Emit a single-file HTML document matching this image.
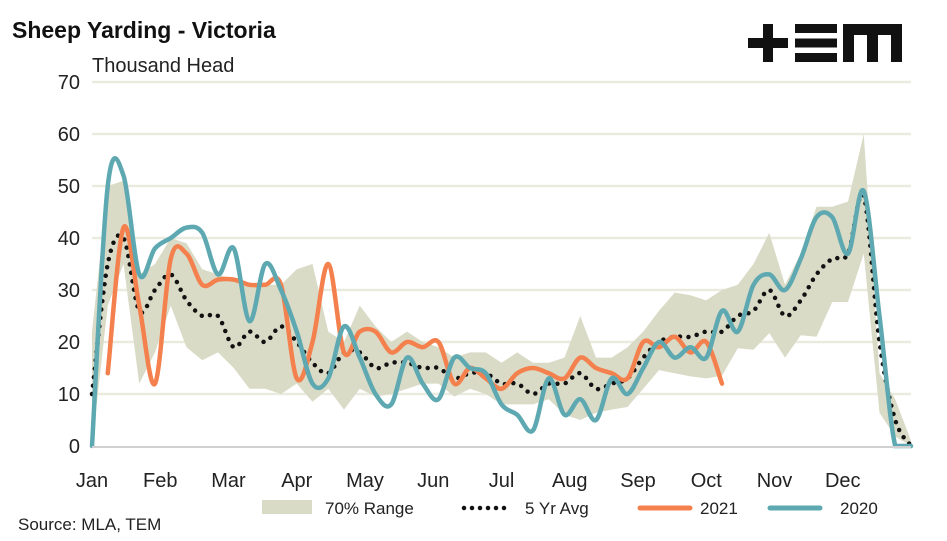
<!DOCTYPE html>
<html><head><meta charset="utf-8"><style>
body{margin:0;background:#fff;}
svg{display:block;font-family:"Liberation Sans",Arial,sans-serif;}
</style></head><body>
<svg id="chart" width="947" height="541" viewBox="0 0 947 541">
<text x="12" y="38" font-size="23" font-weight="bold" fill="#111">Sheep Yarding - Victoria</text>
<text x="92" y="72" font-size="20" fill="#222">Thousand Head</text>
<g fill="#111">
<rect x="748" y="38" width="40" height="10"/><rect x="763" y="24" width="10" height="38"/>
<rect x="795" y="24" width="42" height="9"/><rect x="795" y="38.5" width="42" height="9"/><rect x="795" y="53" width="42" height="9"/>
<path d="M843 24 H902 V62 H891 V35 H878 V62 H867 V35 H854 V62 H843 Z"/>
</g>
<g id="grid"></g><g id="range"></g><g id="lines"></g><g id="axes"></g>
<g>
<rect x="262" y="500" width="50" height="14" fill="#d9dbc6"/>
<text x="325" y="514" font-size="17" fill="#222">70% Range</text>
<line x1="464" y1="508" x2="512" y2="508" stroke="#111" stroke-width="4.5" stroke-linecap="round" stroke-dasharray="0 8"/>
<text x="525" y="514" font-size="17" fill="#222">5 Yr Avg</text>
<line x1="640" y1="508" x2="690" y2="508" stroke="#f4804e" stroke-width="5" stroke-linecap="round"/>
<text x="700" y="514" font-size="17" fill="#222">2021</text>
<line x1="770" y1="508" x2="820" y2="508" stroke="#5ea9b1" stroke-width="5" stroke-linecap="round"/>
<text x="840" y="514" font-size="17" fill="#222">2020</text>
</g>
<text x="18" y="530" font-size="17" fill="#222">Source: MLA, TEM</text>
</svg>
<script>
const yTicks=[0,10,20,30,40,50,60,70];
const months=["Jan","Feb","Mar","Apr","May","Jun","Jul","Aug","Sep","Oct","Nov","Dec"];
const rangeUpper=[22,50,51,33,35,40,39,34,33,32,31,31,31,34,35,22,20,27,23,20,22,20,19,17,18,18,16,18,16,16,17,25,17,17,19,22,26,29.5,29,28,30,31,35,41,31,37,46,46,47,60,14,9,1];
const rangeLower=[0,27,35,12,18,27,19,16.5,18,15,11,11,10,12,8.5,11,7,11,9.5,10,11,12,12,9.5,11,10,8,8,8,9,6,5,6.4,7,7.5,11,14.6,14,13.4,13,13.5,18.8,18.5,21.7,17,21.3,21,27.7,27.7,37,6.4,1.8,0];
const avg5=[10,35,40,26,30,33,28,25,25,19,22,20,23,20,16,14,18,18,15,16,16,15,15,13,14,14,12,12,10,12,12,14,11,12,13,17,20,21,21,22,22,25,26,30,25,28,33,36,37,48,20,5,0];
const y2021=[null,14,42,27,12,36,37,31,32,32,31,31,31,13,20,35,18,22,22,18,20,19,20,12,15,13,11,14,15,14,13,17,15,14,13,20,19,21,18,20,12];
const y2020=[0,50,52,33,38,40,42,41,33,38,24,35,30,22,12,13,23,17,10,8,17,12,9,17,15,14,8,6,3,13,6,9,5,13,10,15,20,17,19,17,26,22,31,33,30,36,44,44,37,49,25,0,0];
const X0=92,X1=911,Y0=446,YMAX=70,YTOP=82;
const xs=i=>X0+i*(X1-X0)/52;
const ys=v=>Y0-v/YMAX*(Y0-YTOP);
const NS="http://www.w3.org/2000/svg";
function mk(tag,attrs,parent){const e=document.createElementNS(NS,tag);for(const k in attrs)e.setAttribute(k,attrs[k]);document.getElementById(parent).appendChild(e);return e;}
yTicks.forEach((t,i)=>{
 if(t>0){const g=mk('line',{x1:X0,x2:X1,y1:ys(t),y2:ys(t),stroke:'#eaeadf','stroke-width':2.5},'grid');
 
 }
 const l=mk('text',{x:80,y:ys(t)+7,'font-size':20,'text-anchor':'end',fill:'#222'},'axes');l.textContent=t;
 
 
});
const ax=mk('line',{x1:X0,x2:X1,y1:Y0+1,y2:Y0+1,stroke:'#d0d0d0','stroke-width':2},'axes');


months.forEach((m,i)=>{
 const t=mk('text',{x:xs(i*52/12),y:487,'font-size':20,'text-anchor':'middle',fill:'#222'},'axes');t.textContent=m;
 
 
});
let d='';rangeUpper.forEach((v,i)=>{d+=(i?'L':'M')+xs(i)+' '+ys(v)+' ';});
for(let i=rangeLower.length-1;i>=0;i--)d+='L'+xs(i)+' '+ys(rangeLower[i])+' ';
const rp=mk('path',{d:d+'Z',fill:'#d9dbc6'},'range');


function smooth(arr){
 const pts=[];arr.forEach((v,i)=>{if(v!==null)pts.push([xs(i),ys(v)]);});
 let p='M'+pts[0][0]+' '+pts[0][1];
 const cl=y=>Math.min(y,Y0);
 for(let i=0;i<pts.length-1;i++){
  const a=pts[i-1]||pts[i],b=pts[i],c=pts[i+1],e=pts[i+2]||c;
  let c1=[b[0]+(c[0]-a[0])/6,cl(b[1]+(c[1]-a[1])/6)],c2=[c[0]-(e[0]-b[0])/6,cl(c[1]-(e[1]-b[1])/6)];
  if(b[1]===Y0&&c[1]===Y0){c1[1]=Y0;c2[1]=Y0;}
  p+=' C'+c1[0]+' '+c1[1]+' '+c2[0]+' '+c2[1]+' '+c[0]+' '+c[1];
 }
 return p;
}
const la=mk('path',{d:smooth(avg5),fill:'none',stroke:'#111','stroke-width':4.5,'stroke-linecap':'round','stroke-dasharray':'0 8.5'},'lines');


const l21=mk('path',{d:smooth(y2021),fill:'none',stroke:'#f4804e','stroke-width':4.5,'stroke-linecap':'round'},'lines');


const l20=mk('path',{d:smooth(y2020),fill:'none',stroke:'#5ea9b1','stroke-width':4.5,'stroke-linecap':'round'},'lines');


</script>
</body></html>
